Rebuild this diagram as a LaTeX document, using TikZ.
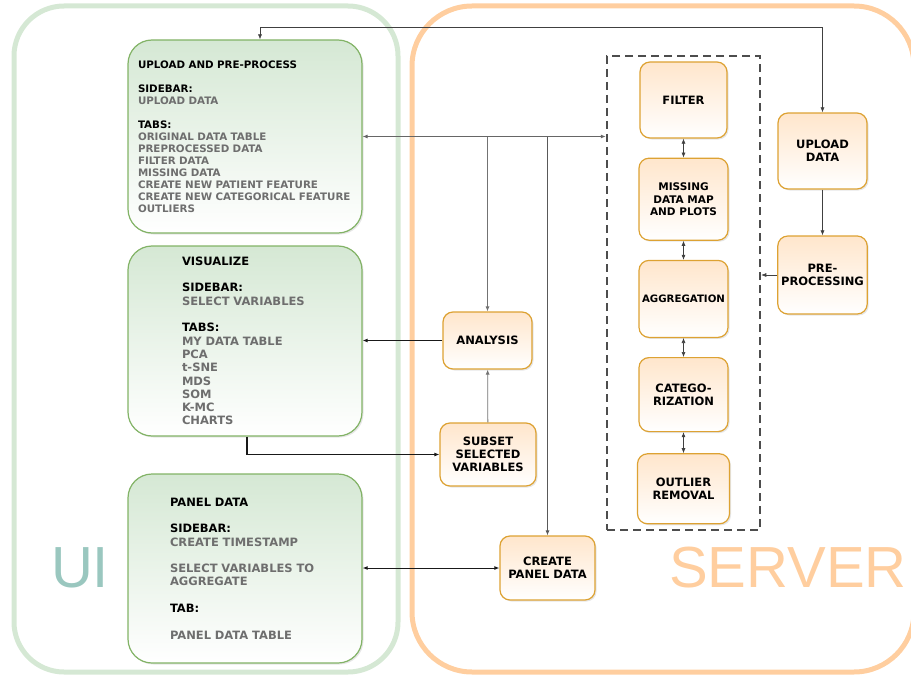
\documentclass[tikz,border=0pt]{standalone}
\usepackage{fontspec}
\setmainfont{DejaVu Sans}
\newfontfamily\bigsans{Liberation Sans}
\usetikzlibrary{positioning, shadows, arrows.meta}
\definecolor{uiframe}{HTML}{D5E8D4}
\definecolor{uifill}{HTML}{D5E8D4}
\definecolor{uiline}{HTML}{82B366}
\definecolor{uitext}{HTML}{9AC7BF}
\definecolor{srvframe}{HTML}{FFCE9F}
\definecolor{srvfill}{HTML}{FFE6CC}
\definecolor{srvline}{HTML}{DDA233}
\definecolor{itemgray}{HTML}{6E6E6E}
\definecolor{dashgray}{HTML}{4D4D4D}
\newcommand{\itm}[1]{\textcolor{itemgray}{#1}}

\begin{document}
\begin{tikzpicture}[x=1pt, y=-1pt,
	gb/.style={draw=uiline, line width=1.2pt, rounded corners=24pt, top color=uifill, bottom color=white, minimum width=234pt, align=left, drop shadow={opacity=0.2, shadow xshift=1.5pt, shadow yshift=-1.5pt}},
	ob/.style={draw=srvline, line width=1.2pt, rounded corners=10pt, top color=srvfill, bottom color=white, align=center, font=\bfseries\fontsize{11.5}{13}\selectfont, drop shadow={opacity=0.2, shadow xshift=1.5pt, shadow yshift=-1.5pt}},
	big/.style={inner sep=0pt, font=\bigsans\fontsize{58}{58}\selectfont},
	arr/.style={-{Latex[length=5pt,width=4pt]}, line width=0.8pt, draw=black!75},
	dbl/.style={{Latex[length=5pt,width=4pt]}-{Latex[length=5pt,width=4pt]}, line width=0.8pt, draw=black!75},
	node distance=19pt]
		\useasboundingbox (0,0) rectangle (911,677);
		\draw[uiframe, line width=5pt, rounded corners=50pt] (14,6) rectangle (398,672);
		\draw[srvframe, line width=5pt, rounded corners=60pt] (412,6) rectangle (914,672);
		\node[big, text=uitext] (uilbl) at (80,568) {UI};
		\node[big, text=srvframe] (srvlbl) at (788,568) {SERVER};

		\node[gb, minimum height=193pt, inner xsep=10pt, text width=214pt, font=\bfseries\fontsize{10.3}{12}\selectfont] (upl) at (245,136.5) {UPLOAD AND PRE-PROCESS\\[12pt]
			SIDEBAR:\\
			\itm{UPLOAD DATA}\\[12pt]
			TABS:\\
			\itm{ORIGINAL DATA TABLE}\\
			\itm{PREPROCESSED DATA}\\
			\itm{FILTER DATA}\\
			\itm{MISSING DATA}\\
			\itm{CREATE NEW PATIENT FEATURE}\\
			\itm{CREATE NEW CATEGORICAL FEATURE}\\
			\itm{OUTLIERS}};
		\node[gb, minimum height=190pt, inner xsep=54pt, text width=126pt, font=\bfseries\fontsize{11.5}{13.3}\selectfont] (vis) at (245,341) {VISUALIZE\\[13.3pt]
			SIDEBAR:\\
			\itm{SELECT VARIABLES}\\[13.3pt]
			TABS:\\
			\itm{MY DATA TABLE}\\
			\itm{PCA}\\
			\itm{t-SNE}\\
			\itm{MDS}\\
			\itm{SOM}\\
			\itm{K-MC}\\
			\itm{CHARTS}};
		\node[gb, minimum height=189pt, inner xsep=42pt, text width=150pt, font=\bfseries\fontsize{11.5}{13.3}\selectfont] (pnl) at (245,568.5) {PANEL DATA\\[13.3pt]
			SIDEBAR:\\
			\itm{CREATE TIMESTAMP}\\[13.3pt]
			\itm{SELECT VARIABLES TO}\\
			\itm{AGGREGATE}\\[13.3pt]
			TAB:\\[13.3pt]
			\itm{PANEL DATA TABLE}};

		\node[draw=dashgray, line width=2.5pt, dash pattern=on 8pt off 5pt, minimum width=153pt, minimum height=474pt] (grp) at (683.5,293) {};
		\node[ob, minimum width=87pt, minimum height=76pt] (fil) at (683.5,100) {FILTER};
		\node[ob, minimum width=89pt, minimum height=82pt, font=\bfseries\fontsize{10.5}{12.3}\selectfont, below=of fil] (mis) {MISSING\\DATA MAP\\AND PLOTS};
		\node[ob, minimum width=89pt, minimum height=77pt, inner xsep=1pt, font=\bfseries\fontsize{10.2}{12}\selectfont, below=of mis] (agg) {AGGREGATION};
		\node[ob, minimum width=89pt, minimum height=74pt, below=of agg] (cat) {CATEGO-\\RIZATION};
		\node[ob, minimum width=92pt, minimum height=70pt, below=21pt of cat] (out) {OUTLIER\\REMOVAL};

		\node[ob, minimum width=89pt, minimum height=76pt] (upd) at (822.5,151) {UPLOAD\\DATA};
		\node[ob, minimum width=89pt, minimum height=78pt] (pre) at (822.5,275) {PRE-\\PROCESSING};
		\node[ob, minimum width=89pt, minimum height=57pt] (ana) at (487.5,340.5) {ANALYSIS};
		\node[ob, minimum width=96pt, minimum height=63pt] (sub) at (488,454.5) {SUBSET\\SELECTED\\VARIABLES};
		\node[ob, minimum width=95pt, minimum height=64pt] (cpd) at (547.5,568) {CREATE\\PANEL DATA};

		\draw[dbl, line width=0.6pt] ([xshift=15pt]upl.north) -- ++(0,-12) -| (upd.north);
		\draw[arr, line width=0.6pt] (upd) -- (pre);
		\draw[arr, line width=0.6pt] (pre.west) -- (pre.west -| grp.east);
		\draw[dbl, draw=black!60] (upl.east) -- (upl.east -| grp.west);
		\draw[arr, draw=black!55] (ana.north |- upl.east) -- (ana.north);
		\draw[arr, draw=black!65] (cpd.north |- upl.east) -- (cpd.north);
		\draw[arr, draw=black!55] (sub) -- (ana);
		\draw[arr, line width=1.2pt, draw=black!90] (ana.west) -- (ana.west -| vis.east);
		\draw[arr, line width=1.2pt, draw=black!90] ([xshift=2pt]vis.south) |- (sub.west);
		\draw[dbl, line width=1pt, draw=black!90] (pnl.east |- cpd.west) -- (cpd.west);
		\foreach \a/\b in {fil/mis, mis/agg, agg/cat, cat/out}
			\draw[dbl, line width=0.6pt] (\a) -- (\b);
\end{tikzpicture}
\end{document}
